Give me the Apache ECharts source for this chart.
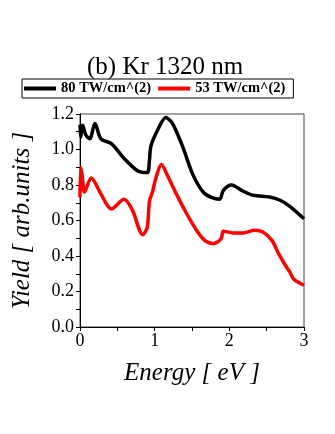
<!DOCTYPE html>
<html>
<head>
<meta charset="utf-8">
<script src="https://cdn.jsdelivr.net/npm/echarts@6/dist/echarts.min.js"></script>
<style>
html,body{margin:0;padding:0;background:#fff;}
#chart{width:335px;height:434px;}
</style>
</head>
<body>
<div id="chart"></div>
<script>
const titleText = "(b) Kr 1320 nm";
const seriesNames = ["80 TW/cm^(2)", "53 TW/cm^(2)"];
const xTicks = [0, 1, 2, 3];
const yTicks = [0.0, 0.2, 0.4, 0.6, 0.8, 1.0, 1.2];

const energyBlack = [0, 0.01, 0.035, 0.08, 0.13, 0.2, 0.28, 0.42, 0.59, 0.77, 0.9, 0.93, 0.95, 1.04, 1.15, 1.24, 1.38, 1.51, 1.65, 1.76, 1.87, 1.92, 2.03, 2.18, 2.32, 2.54, 2.68, 2.81, 3.0];
const yieldBlack  = [1.14, 1.07, 1.136, 1.08, 1.06, 1.146, 1.06, 1.033, 0.95, 0.88, 0.87, 0.94, 1.02, 1.11, 1.18, 1.146, 1.01, 0.86, 0.76, 0.73, 0.72, 0.77, 0.80, 0.766, 0.742, 0.732, 0.714, 0.68, 0.61];

const energyRed = [0, 0.01, 0.03, 0.06, 0.15, 0.28, 0.42, 0.59, 0.7, 0.84, 0.9, 0.93, 0.97, 1.02, 1.09, 1.17, 1.29, 1.42, 1.56, 1.67, 1.78, 1.89, 1.92, 2.05, 2.18, 2.34, 2.45, 2.57, 2.66, 2.75, 2.81, 2.86, 3.0];
const yieldRed  = [0.73, 0.9, 0.85, 0.76, 0.84, 0.75, 0.665, 0.72, 0.66, 0.52, 0.56, 0.71, 0.76, 0.845, 0.915, 0.855, 0.75, 0.645, 0.545, 0.488, 0.47, 0.498, 0.54, 0.53, 0.53, 0.545, 0.535, 0.488, 0.413, 0.348, 0.31, 0.27, 0.235];

const zip = (xs, ys) => xs.map((x, i) => [x, ys[i]]);
const serif = "'Liberation Serif', 'DejaVu Serif', serif";

const chart = echarts.init(document.getElementById('chart'));
chart.setOption({
  backgroundColor: '#fff',
  animation: false,
  title: {
    text: titleText,
    left: 82,
    top: 50,
    textStyle: {fontFamily: serif, fontSize: 25, fontWeight: 'normal', color: '#000'}
  },
  legend: {
    left: 22,
    top: 79,
    width: 270,
    height: 20,
    padding: [2, 8, 2, 2],
    borderColor: '#000',
    borderWidth: 1,
    itemGap: 7,
    itemWidth: 32,
    itemHeight: 4,
    icon: 'rect',
    textStyle: {fontFamily: serif, fontSize: 14.5, fontWeight: 'bold', color: '#000'},
    data: seriesNames
  },
  grid: {
    left: 80, right: 31, top: 114, bottom: 107,
    show: true, borderColor: '#444', borderWidth: 1
  },
  xAxis: {
    type: 'value',
    min: xTicks[0], max: xTicks[xTicks.length - 1], interval: 1,
    name: 'Energy [ eV ]',
    nameLocation: 'middle',
    nameGap: 34,
    nameTextStyle: {fontFamily: serif, fontSize: 25, fontStyle: 'italic', color: '#000'},
    axisLine: {lineStyle: {color: '#000', width: 1}},
    axisTick: {show: true, length: 4, lineStyle: {color: '#000'}},
    minorTick: {show: true, splitNumber: 2, length: 4, lineStyle: {color: '#000'}},
    splitLine: {show: false},
    axisLabel: {fontFamily: serif, fontSize: 18, color: '#000', margin: 5}
  },
  yAxis: {
    type: 'value',
    min: 0, max: 1.2, interval: 0.2,
    name: 'Yield [ arb.units ]',
    nameLocation: 'middle',
    nameGap: 45,
    nameTextStyle: {fontFamily: serif, fontSize: 25, fontStyle: 'italic', color: '#000'},
    axisLine: {show: true, lineStyle: {color: '#000', width: 1}},
    axisTick: {show: true, length: 4, lineStyle: {color: '#000'}},
    minorTick: {show: true, splitNumber: 2, length: 4, lineStyle: {color: '#000'}},
    splitLine: {show: false},
    axisLabel: {fontFamily: serif, fontSize: 18, color: '#000', margin: 6,
      formatter: v => v.toFixed(1)}
  },
  series: [
    {
      name: seriesNames[0], type: 'line', data: zip(energyBlack, yieldBlack),
      smooth: 0.3, showSymbol: false, symbol: 'none',
      lineStyle: {color: '#000', width: 3.5}, itemStyle: {color: '#000'}
    },
    {
      name: seriesNames[1], type: 'line', data: zip(energyRed, yieldRed),
      smooth: 0.3, showSymbol: false, symbol: 'none',
      lineStyle: {color: '#ff0000', width: 3.5}, itemStyle: {color: '#ff0000'}
    }
  ]
});
</script>
</body>
</html>
